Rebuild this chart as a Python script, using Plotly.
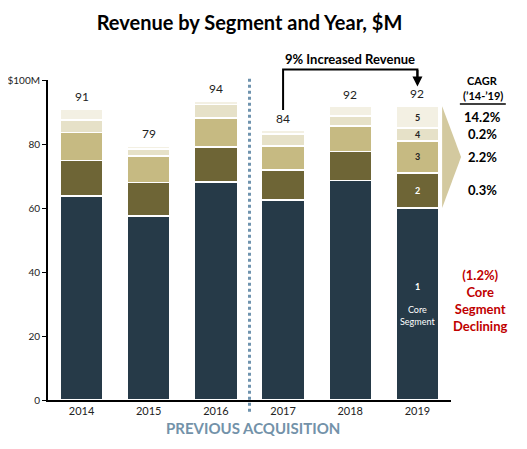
import plotly.graph_objects as go

years = ["2014", "2015", "2016", "2017", "2018", "2019"]
seg1 = [63.8, 57.5, 68.2, 62.5, 68.6, 60.0]
seg2 = [11.0, 10.4, 10.8, 9.4, 9.1, 11.0]
seg3 = [8.8, 8.4, 9.1, 7.4, 8.0, 10.0]
seg4 = [3.9, 2.1, 4.3, 3.9, 3.1, 4.0]
seg5 = [3.5, 0.9, 1.1, 1.0, 2.9, 6.8]
total_labels = ["91", "79", "94", "84", "92", "92"]
segment_names = ["1", "2", "3", "4", "5"]
cagr_labels = ["0.3%", "2.2%", "0.2%", "14.2%"]  # segments 2..5
core_cagr = "(1.2%)"
ytick_vals = [0, 20, 40, 60, 80, 100]
ytick_text = ["0", "20", "40", "60", "80", "$100M"]

series = [seg1, seg2, seg3, seg4, seg5]
colors = ["#263A48", "#6E6536", "#C6BA82", "#E6E1C8", "#F3F0E3"]
FONT = "Lato, Open Sans, sans-serif"

fig = go.Figure()
for name, vals, col in zip(segment_names, series, colors):
    fig.add_trace(go.Bar(
        x=years, y=vals, name=name,
        marker=dict(color=col, line=dict(color="white", width=1.5)),
    ))

n = len(years)
totals = [sum(s[i] for s in series) for i in range(n)]
# page body has an 8px margin, so the figure is 8px smaller than the window
W, H = 519, 441
PLOT_L, PLOT_R, PLOT_T, PLOT_B = 40, 443, 72, 392


def py(v):  # data value -> paper y
    return v / 100.0


def cx_paper(i):
    return (i + 0.5) / n


def ann(**kw):
    kw.setdefault("showarrow", False)
    kw.setdefault("xanchor", "center")
    kw.setdefault("yanchor", "middle")
    return dict(**kw)


annotations = []
for i, (t, lab) in enumerate(zip(totals, total_labels)):
    annotations.append(ann(x=i, y=t, text=lab, yanchor="bottom", yshift=3,
                           font=dict(size=12, color="#222222", family=FONT)))

last = n - 1
cum = 0
mids = []
for s in series:
    mids.append(cum + s[last] / 2)
    cum += s[last]
seg_txt_colors = ["white", "white", "#222222", "#222222", "#222222"]
for i in range(1, 5):
    annotations.append(ann(x=last, y=mids[i], text="<b>%s</b>" % segment_names[i],
                           font=dict(size=9, color=seg_txt_colors[i], family=FONT)))
annotations.append(ann(x=last, y=35.6, text="<b>1</b>", font=dict(size=9, color="white", family=FONT)))
annotations.append(ann(x=last, y=26.4, text="Core<br>Segment", font=dict(size=9, color="white", family=FONT)))

cx = 1.0794
for i in range(1, 5):
    annotations.append(ann(xref="paper", yref="y", x=cx, y=mids[i], text="<b>%s</b>" % cagr_labels[i - 1],
                           font=dict(size=13, color="black", family=FONT)))
annotations.append(ann(xref="paper", yref="paper", x=cx, y=1.0, text="<b>CAGR</b>",
                       font=dict(size=11, color="black", family=FONT)))
annotations.append(ann(xref="paper", yref="paper", x=cx, y=0.953, text="<b>(\u201914-\u201919)</b>",
                       font=dict(size=11, color="black", family=FONT)))
annotations.append(ann(xref="paper", yref="paper", x=1.074, y=0.31,
                       text="<b>" + core_cagr + "<br>Core<br>Segment<br>Declining</b>",
                       font=dict(size=13, color="#C00000", family=FONT)))

annotations.append(ann(xref="paper", yref="paper", x=cx_paper(4), y=1.066, text="<b>9% Increased Revenue</b>",
                       font=dict(size=13, color="black", family=FONT)))
annotations.append(dict(x=last, y=98.0, ax=0, ay=-18, text="", showarrow=True,
                        arrowhead=2, arrowsize=1, arrowwidth=2, arrowcolor="black"))
annotations.append(ann(xref="paper", yref="paper", x=0.508, y=-0.089, text="<b>PREVIOUS ACQUISITION</b>",
                       font=dict(size=15, color="#7392A9", family=FONT)))

shapes = [
    dict(type="line", xref="paper", yref="paper", x0=0.5, x1=0.5, y0=-0.037, y1=1.01,
         line=dict(color="#6F93AE", width=3, dash="dot")),
    dict(type="path", xref="paper", yref="paper",
         path="M %f %f L %f %f L %f %f L %f %f" % (cx_paper(3), py(90.6), cx_paper(3), py(103.3),
                                                 cx_paper(5), py(103.3), cx_paper(5), py(99.5)),
         line=dict(color="black", width=2)),
    dict(type="line", xref="paper", yref="paper", x0=1.022, x1=1.136, y0=0.925, y1=0.925,
         line=dict(color="black", width=1.5)),
    dict(type="path", xref="paper", yref="paper",
         path="M 0.978 %f L 1.025 %f L 0.978 %f Z" % (
             py(totals[last]), py(seg1[last] + (totals[last] - seg1[last]) / 2), py(seg1[last])),
         fillcolor="#D3C99F", line=dict(width=0)),
]

fig.update_layout(
    barmode="stack", bargap=0.36, width=W, height=H,
    margin=dict(l=PLOT_L, r=W - PLOT_R, t=PLOT_T, b=H - PLOT_B, pad=0, autoexpand=False),
    plot_bgcolor="white", paper_bgcolor="white", showlegend=False,
    title=dict(text="<b>Revenue by Segment and Year, $M</b>", x=0.5, xref="paper", xanchor="center",
               y=1 - 15 / H, yref="container", yanchor="middle",
               font=dict(size=20, color="black", family=FONT)),
    xaxis=dict(type="category", categoryorder="array", categoryarray=years, range=[-0.5, n - 0.5],
               automargin=False, showline=True, linecolor="black", linewidth=2, ticks="",
               tickfont=dict(size=11, color="#222222", family=FONT), showgrid=False),
    yaxis=dict(range=[0, 100], tickvals=ytick_vals, automargin=False,
               ticktext=ytick_text, showline=True, linecolor="black",
               linewidth=2, ticks="outside", ticklen=4, tickcolor="black", showgrid=False, zeroline=False,
               tickfont=dict(size=10, color="#222222", family=FONT)),
    annotations=annotations, shapes=shapes,
)

fig.write_html("out.html")
